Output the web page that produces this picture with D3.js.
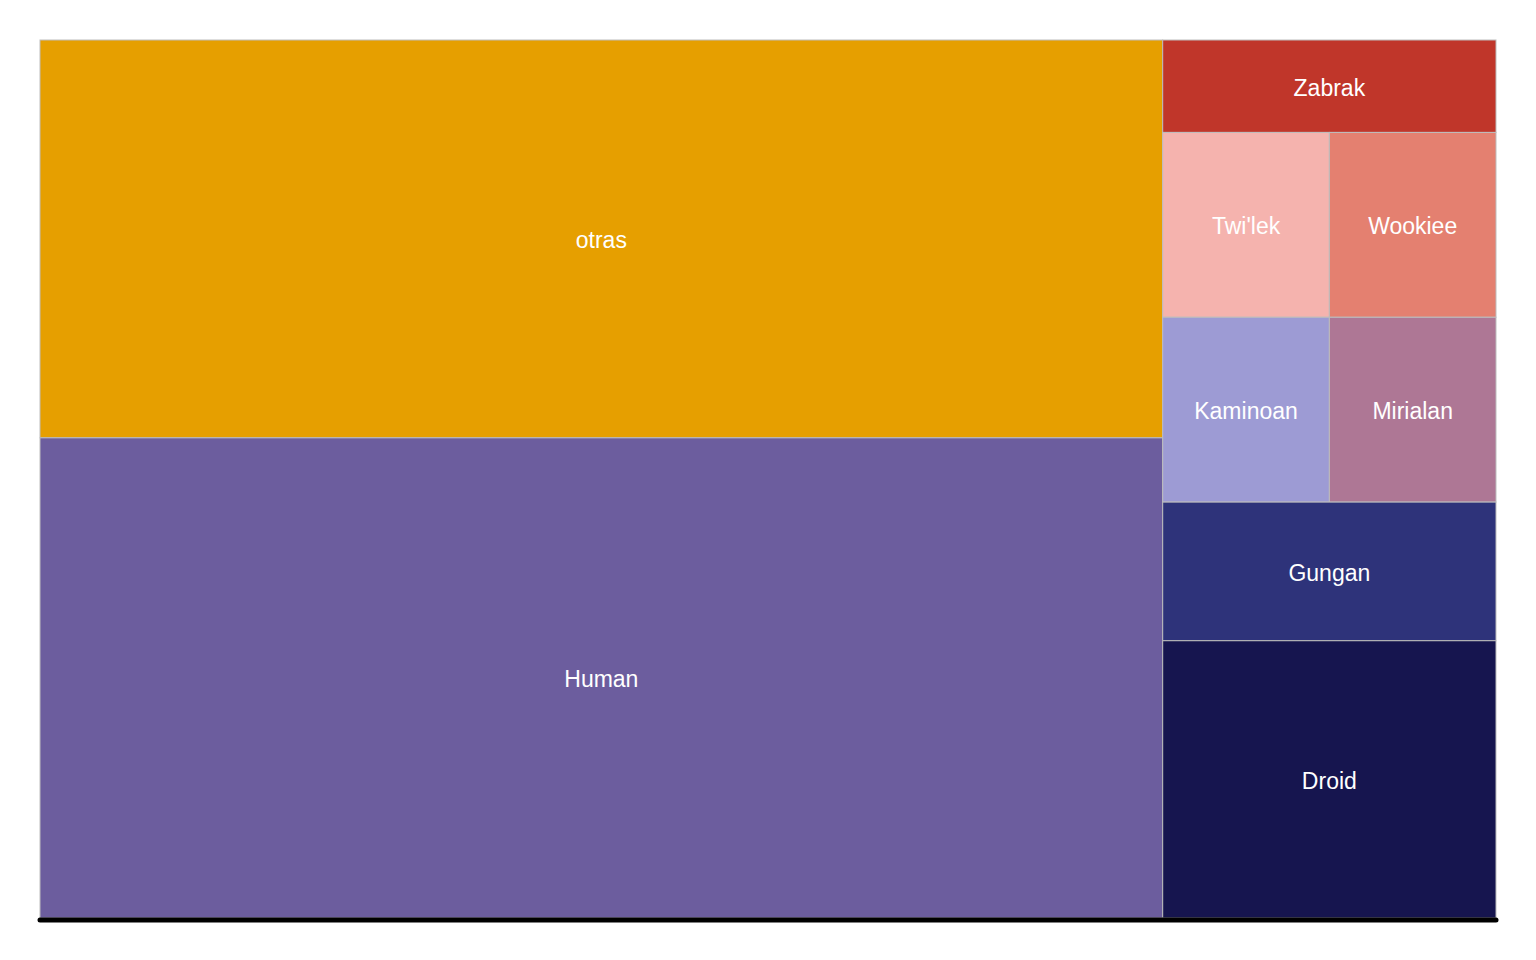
<!DOCTYPE html>
<html><head><meta charset="utf-8">
<script src="https://cdn.jsdelivr.net/npm/d3@7"></script>
<style>body{margin:0;background:#fff}svg{display:block}</style>
</head><body>
<script>
// Data
const leftGroup = ["otras", "Human"];
const leftValues = [29, 35];
const rightGroup = ["Zabrak", ["Twi'lek", "Wookiee"], ["Kaminoan", "Mirialan"], "Gungan", "Droid"];
const species = ["otras", "Human", "Zabrak", "Twi'lek", "Wookiee", "Kaminoan", "Mirialan", "Gungan", "Droid"];
const counts = [29, 35, 2, 2, 2, 2, 2, 3, 6];
const colors = ["#E69F00", "#6C5D9E", "#C0362A", "#F5B3AE", "#E48070", "#9D9BD4", "#AE7795", "#2E337A", "#16154F"];

const valueOf = Object.fromEntries(species.map((s, i) => [s, counts[i]]));
const colorOf = Object.fromEntries(species.map((s, i) => [s, colors[i]]));

const W = 1536, H = 960;
const x0 = 40, y0 = 40, x1 = 1496, y1 = 918;

function node(n) {
  if (Array.isArray(n)) return { name: "row", orient: "dice", children: n.map(node) };
  return { name: n, value: valueOf[n] };
}
const data = {
  name: "root", orient: "dice",
  children: [
    { name: "left", orient: "slice", children: leftGroup.map(node) },
    { name: "right", orient: "slice", children: rightGroup.map(node) }
  ]
};

const root = d3.hierarchy(data).sum(d => d.value || 0);
d3.treemap()
  .size([x1 - x0, y1 - y0])
  .tile((n, a, b, c, d) => (n.data.orient === "slice" ? d3.treemapSlice : d3.treemapDice)(n, a, b, c, d))
  (root);

const svg = d3.select("body").append("svg").attr("width", W).attr("height", H);
const g = svg.append("g").attr("transform", `translate(${x0},${y0})`);

const leaves = root.leaves();
g.selectAll("rect").data(leaves).join("rect")
  .attr("x", d => d.x0).attr("y", d => d.y0)
  .attr("width", d => d.x1 - d.x0).attr("height", d => d.y1 - d.y0)
  .attr("fill", d => colorOf[d.data.name])
  .attr("stroke", "#bdbdbd").attr("stroke-width", 1);

g.selectAll("text").data(leaves).join("text")
  .attr("x", d => (d.x0 + d.x1) / 2)
  .attr("y", d => (d.y0 + d.y1) / 2 + 1.5)
  .attr("text-anchor", "middle")
  .attr("dominant-baseline", "central")
  .attr("fill", "#fff")
  .attr("font-family", "'Liberation Sans', Arial, sans-serif")
  .attr("font-size", 23)
  .text(d => d.data.name);

svg.append("line")
  .attr("x1", x0).attr("x2", x1).attr("y1", 920).attr("y2", 920)
  .attr("stroke", "#000").attr("stroke-width", 5).attr("stroke-linecap", "round");
</script>
</body></html>
